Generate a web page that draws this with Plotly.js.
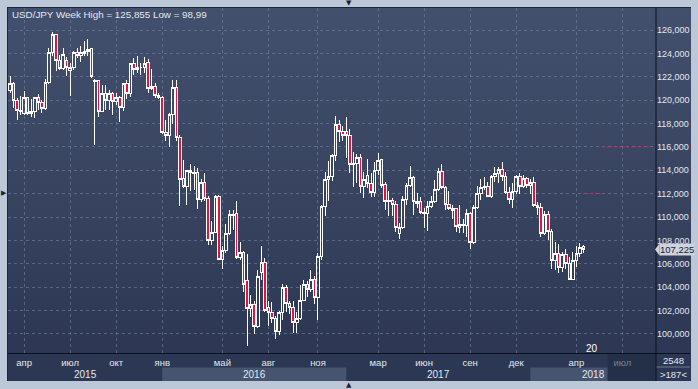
<!DOCTYPE html>
<html><head><meta charset="utf-8">
<script src="https://cdn.plot.ly/plotly-3.0.1.min.js"></script>
<style>
html,body{margin:0;padding:0;background:#bcc8d8;width:698px;height:389px;overflow:hidden;}
#bg{position:absolute;left:7px;top:7px;width:684px;height:374px;background:linear-gradient(to bottom,#43506d 0%,#36425e 55%,#2b3551 100%);border-left:1px solid #1d2536;border-top:1px solid #1d2536;box-sizing:border-box;}
#chart{position:absolute;left:0;top:0;width:698px;height:389px;}
#chart .boxes path{shape-rendering:crispEdges;}
</style></head><body><div id="bg"></div><div id="chart"></div>
<script>
// ---- data (weekly USD/JPY) ----
var weeks = [
'2015-03-09','2015-03-16','2015-03-23','2015-03-30','2015-04-06','2015-04-13','2015-04-20','2015-04-27','2015-05-04','2015-05-11','2015-05-18','2015-05-25','2015-06-01','2015-06-08','2015-06-15','2015-06-22','2015-06-29','2015-07-06','2015-07-13','2015-07-20','2015-07-27','2015-08-03','2015-08-10','2015-08-17','2015-08-24','2015-08-31','2015-09-07','2015-09-14','2015-09-21','2015-09-28','2015-10-05','2015-10-12','2015-10-19','2015-10-26','2015-11-02','2015-11-09','2015-11-16','2015-11-23','2015-11-30','2015-12-07','2015-12-14','2015-12-21','2015-12-28',
'2016-01-04','2016-01-11','2016-01-18','2016-01-25','2016-02-01','2016-02-08','2016-02-15','2016-02-22','2016-02-29','2016-03-07','2016-03-14','2016-03-21','2016-03-28','2016-04-04','2016-04-11','2016-04-18','2016-04-25','2016-05-02','2016-05-09','2016-05-16','2016-05-23','2016-05-30','2016-06-06','2016-06-13','2016-06-20','2016-06-27','2016-07-04','2016-07-11','2016-07-18','2016-07-25','2016-08-01','2016-08-08','2016-08-15','2016-08-22','2016-08-29','2016-09-05','2016-09-12','2016-09-19','2016-09-26','2016-10-03','2016-10-10','2016-10-17','2016-10-24','2016-10-31','2016-11-07','2016-11-14','2016-11-21','2016-11-28','2016-12-05','2016-12-12','2016-12-19','2016-12-26',
'2017-01-02','2017-01-09','2017-01-16','2017-01-23','2017-01-30','2017-02-06','2017-02-13','2017-02-20','2017-02-27','2017-03-06','2017-03-13','2017-03-20','2017-03-27','2017-04-03','2017-04-10','2017-04-17','2017-04-24','2017-05-01','2017-05-08','2017-05-15','2017-05-22','2017-05-29','2017-06-05','2017-06-12','2017-06-19','2017-06-26','2017-07-03','2017-07-10','2017-07-17','2017-07-24','2017-07-31','2017-08-07','2017-08-14','2017-08-21','2017-08-28','2017-09-04','2017-09-11','2017-09-18','2017-09-25','2017-10-02','2017-10-09','2017-10-16','2017-10-23','2017-10-30','2017-11-06','2017-11-13','2017-11-20','2017-11-27','2017-12-04','2017-12-11','2017-12-18','2017-12-25',
'2018-01-01','2018-01-08','2018-01-15','2018-01-22','2018-01-29','2018-02-05','2018-02-12','2018-02-19','2018-02-26','2018-03-05','2018-03-12','2018-03-19','2018-03-26','2018-04-02','2018-04-09','2018-04-16'];

var open = [
120.8,121.4,120.0,119.1,118.9,120.2,118.9,119.0,120.2,119.8,119.3,121.5,124.1,125.6,123.4,122.7,123.4,122.5,122.8,124.1,123.8,124.0,124.2,124.4,121.6,121.7,119.0,120.6,120.0,120.6,119.9,120.2,119.4,121.4,120.6,123.1,122.6,122.8,122.8,123.2,121.0,121.2,120.4,
120.2,117.2,117.0,118.8,121.1,116.8,113.3,112.6,114.0,113.7,113.8,111.5,113.0,111.6,108.0,108.7,111.8,106.4,107.1,108.6,110.1,110.3,106.5,107.0,104.6,102.2,102.5,100.6,105.3,106.1,102.3,101.8,101.3,100.2,101.8,104.0,102.6,102.3,101.0,101.3,102.9,104.2,103.8,104.7,103.1,106.6,110.9,113.2,113.5,115.3,117.9,117.3,
117.3,117.0,114.5,114.6,115.1,112.6,113.6,112.9,112.1,114.0,114.9,112.8,111.3,111.4,111.1,108.6,109.1,111.5,112.7,113.4,111.2,111.3,110.4,110.3,110.9,111.3,112.4,113.9,112.5,111.1,110.6,110.7,109.1,109.4,109.3,110.3,107.8,110.8,112.0,112.5,112.6,111.8,113.5,113.7,114.1,113.5,112.1,111.5,112.2,113.5,112.6,113.3,
112.7,113.0,111.0,110.8,108.6,110.2,108.8,106.3,106.9,105.7,106.8,106.0,104.7,106.3,106.9,107.5];

var high = [
122.03,121.6,120.2,120.4,120.8,120.3,120.1,120.3,120.5,120.0,121.8,124.45,125.855,125.7,123.9,124.45,123.7,123.2,124.2,124.5,124.6,125.05,125.28,124.5,121.8,121.75,121.3,121.3,120.9,120.7,120.6,120.4,121.5,121.7,123.2,123.6,123.76,123.2,123.7,123.5,122.7,121.5,120.6,
120.4,118.3,118.9,121.7,121.7,117.0,114.9,114.0,114.55,114.4,114.2,113.3,113.8,111.8,109.7,111.9,111.9,107.5,109.4,110.6,110.6,111.4,107.9,107.1,106.8,103.3,102.8,105.5,107.5,106.5,102.8,102.7,101.5,102.0,104.3,104.2,102.8,102.8,101.9,104.2,104.6,104.5,105.5,105.0,106.9,111.0,113.9,114.8,115.4,118.66,118.3,117.8,
118.6,117.5,115.6,115.4,115.4,113.9,114.95,113.8,114.7,115.5,115.0,113.0,112.2,111.6,111.4,109.5,111.8,112.9,114.37,113.5,112.1,111.7,110.8,111.4,111.8,113.2,114.2,114.5,112.7,112.2,111.05,110.8,111.0,109.8,110.7,110.4,111.0,112.7,113.3,113.4,113.0,113.6,114.3,114.3,114.7,113.9,112.6,112.9,113.6,113.75,113.6,113.4,
113.3,113.4,111.3,111.2,110.5,110.5,109.0,107.9,107.7,107.05,107.3,106.6,107.0,107.5,107.8,107.6];

var low = [
120.6,119.3,118.3,118.7,118.7,118.7,118.6,118.5,119.2,118.9,119.2,121.4,123.8,122.46,122.6,122.6,122.1,120.4,122.6,123.6,123.3,123.8,123.8,121.9,116.15,118.6,119.0,119.2,119.2,118.7,119.6,118.1,119.1,120.1,120.3,122.2,122.3,122.2,122.3,120.6,120.9,120.2,120.1,
117.1,116.5,116.0,118.0,116.5,110.98,112.5,111.0,112.2,112.3,110.7,111.3,111.4,107.6,107.6,108.6,106.3,105.55,106.9,108.5,108.9,106.4,106.3,103.55,98.99,101.45,99.99,100.5,104.6,101.9,100.7,100.9,99.55,99.9,101.2,101.9,101.7,100.1,100.1,101.2,102.8,103.2,103.6,102.55,101.2,106.3,110.1,111.4,113.1,114.8,116.4,116.5,
115.06,113.75,112.6,112.9,112.1,111.6,112.5,111.7,111.7,113.6,112.5,110.6,110.1,110.1,108.7,108.1,109.0,111.0,112.6,110.2,110.8,110.3,109.1,108.8,110.8,111.2,112.2,112.4,110.6,110.6,109.85,108.7,108.6,108.6,108.3,107.3,107.7,110.7,111.5,112.3,111.7,111.6,113.0,112.9,113.1,112.0,111.1,110.8,112.0,112.0,112.5,112.5,
112.0,110.9,110.2,108.3,108.5,108.0,105.55,105.5,105.25,105.3,105.6,104.6,104.6,105.7,106.6,106.9];

var close = [
121.4,120.0,119.1,119.0,120.2,118.9,119.0,120.2,119.8,119.3,121.5,124.1,125.6,123.4,122.7,123.9,122.8,122.8,124.1,123.8,124.1,124.2,124.3,122.0,121.7,119.0,120.6,120.0,120.6,119.9,120.2,119.4,121.4,120.6,123.1,122.6,122.8,122.8,123.1,121.0,121.2,120.4,120.2,
117.2,117.0,118.8,121.1,116.8,113.2,112.6,114.0,113.8,113.8,111.5,113.0,111.6,108.0,108.7,111.8,106.4,107.1,108.6,110.2,110.2,106.5,107.0,104.2,102.2,102.5,100.6,104.9,106.1,102.0,101.8,101.3,100.2,101.8,104.0,102.6,102.3,101.0,101.3,102.9,104.2,103.8,104.7,103.1,106.6,110.9,113.2,113.5,115.3,117.9,117.3,117.0,
117.0,114.5,114.6,115.1,112.6,113.2,112.9,112.1,114.0,114.8,112.7,111.3,111.4,111.1,109.1,109.1,111.5,112.7,113.4,111.3,111.3,110.4,110.3,110.9,111.3,112.4,113.9,112.5,111.1,110.7,110.7,109.2,109.4,109.3,110.3,107.8,110.8,112.0,112.5,112.6,111.8,113.5,113.7,114.1,113.5,112.1,111.5,112.2,113.5,112.6,113.3,112.7,
113.0,111.0,110.8,108.6,110.2,108.8,106.3,106.9,105.7,106.8,106.0,104.7,106.3,106.9,107.4,107.225];

var monthTicks = ['2015-04-06','2015-07-06','2015-10-05','2016-01-04','2016-05-02','2016-08-01','2016-11-07','2017-03-06','2017-06-05','2017-09-04','2017-12-04','2018-04-02','2018-07-02'];
var monthNames = ['апр','июл','окт','янв','май','авг','ноя','мар','июн','сен','дек','апр','июл'];
var yearNames = ['2015','2016','2017','2018'];
var yearStarts = ['2015-03-05 01:00','2016-01-04','2017-01-02','2018-01-01'];
var priceTicks = [100,102,104,106,108,110,112,114,116,118,120,122,124,126];
var lastPrice = 107.225;
var titleText = 'USD/JPY Week High = 125,855 Low = 98,99';

// ---- layout helpers ----
var W = 698, H = 389, PL = 8, PR = 656, PT = 8, PB = 353;
var xRange = ['2015-03-05 01:00', '2018-09-06 11:00'];
var futureStart = '2018-06-03';
function ms(d){ return new Date(d.replace(' ', 'T') + (d.length > 10 ? ':00Z' : 'T00:00:00Z')).getTime(); }
var x0ms = ms(xRange[0]), x1ms = ms(xRange[1]);
function dx(d){ return (ms(d) - x0ms) / (x1ms - x0ms); }
function px(x){ return (x - PL) / (PR - PL); }
function py(y){ return (PB - y) / (PB - PT); }

var font = 'Liberation Sans, Arial, sans-serif';
var txt = '#e2e7ef';
var grid = 'rgba(112,128,160,0.62)';

var trace = {
  type: 'candlestick', x: weeks, open: open, high: high, low: low, close: close,
  increasing: { line: { color: '#ffffff', width: 1 }, fillcolor: 'rgba(0,0,0,0)' },
  decreasing: { line: { color: '#ffffff', width: 1 }, fillcolor: '#e8103c' },
  whiskerwidth: 0, hoverinfo: 'skip'
};

var shapes = [];
var panelTop = py(354), panelBot = py(381);
shapes.push({type:'rect', layer:'below', xref:'paper', yref:'paper', x0:0, x1:px(690), y0:panelBot, y1:panelTop, fillcolor:'#2c3853', line:{width:0}});
shapes.push({type:'rect', layer:'below', xref:'paper', yref:'paper', x0:dx(yearStarts[1]), x1:dx(yearStarts[2]), y0:panelBot, y1:py(367.5), fillcolor:'#46546f', line:{width:0}});
shapes.push({type:'rect', layer:'below', xref:'paper', yref:'paper', x0:dx(yearStarts[3]), x1:dx(futureStart), y0:panelBot, y1:py(367.5), fillcolor:'#46546f', line:{width:0}});
shapes.push({type:'rect', layer:'below', xref:'paper', yref:'paper', x0:dx(futureStart), x1:1, y0:panelBot, y1:panelTop, fillcolor:'#243048', line:{width:0}});
shapes.push({type:'line', xref:'paper', yref:'paper', x0:0, x1:px(690), y0:py(353.5), y1:py(353.5), line:{color:'#0c111c', width:1}});
shapes.push({type:'line', xref:'paper', yref:'paper', x0:1, x1:1, y0:py(381), y1:1, line:{color:'#0c111c', width:1}});
shapes.push({type:'line', layer:'below', xref:'paper', yref:'paper', x0:1, x1:px(690), y0:py(367), y1:py(367), line:{color:'#6d7a93', width:1}});
shapes.push({type:'line', xref:'x', yref:'y', x0:'2018-04-15', x1:'2018-05-25', y0:112, y1:112, line:{color:'#e0203a', width:1, dash:'2px,2px'}});
shapes.push({type:'line', xref:'x', yref:'y', x0:'2018-05-25', x1:'2018-08-25', y0:116, y1:116, line:{color:'#e0203a', width:1, dash:'2px,2px'}});
var tagHalf = 6 / 11.687;
shapes.push({type:'path', xref:'paper', yref:'y', fillcolor:'#cdd4de', line:{width:0},
  path: 'M ' + px(655) + ',' + lastPrice + ' L ' + px(659.5) + ',' + (lastPrice + tagHalf) + ' L ' + px(659.5) + ',' + (lastPrice - tagHalf) + ' Z'});

var annotations = [];
annotations.push({xref:'paper', yref:'paper', x:px(10), y:py(15), xanchor:'left', yanchor:'middle', showarrow:false,
  text: titleText, font:{family:font, size:9.8, color:txt}});
for (var i = 0; i < yearNames.length; i++) {
  var a = dx(yearStarts[i]);
  var b = (i + 1 < yearStarts.length) ? dx(yearStarts[i + 1]) : 1;
  annotations.push({xref:'paper', yref:'paper', x:(a + b) / 2, y:py(374.5), xanchor:'center', yanchor:'middle', showarrow:false,
    text: yearNames[i], font:{family:font, size:10, color:txt}});
}
annotations.push({xref:'paper', yref:'paper', x:px(592), y:py(348), xanchor:'center', yanchor:'middle', showarrow:false,
  text:'20', font:{family:font, size:10, color:'#ffffff'}});
annotations.push({xref:'paper', yref:'paper', x:px(673), y:py(360), xanchor:'center', yanchor:'middle', showarrow:false,
  text:'2548', font:{family:font, size:9.5, color:txt}});
annotations.push({xref:'paper', yref:'paper', x:px(673), y:py(374), xanchor:'center', yanchor:'middle', showarrow:false,
  text:'&gt;187&lt;', font:{family:font, size:9.5, color:txt}});
annotations.push({xref:'paper', yref:'y', x:px(659), y:lastPrice, xanchor:'left', yanchor:'middle', showarrow:false,
  text: lastPrice.toFixed(3).replace('.', ','), bgcolor:'#cdd4de', borderpad:0, font:{family:font, size:9.5, color:'#1a2232'}});
annotations.push({xref:'paper', yref:'paper', x:px(349), y:py(3), xanchor:'center', yanchor:'middle', showarrow:false, text:'▼', font:{family:'DejaVu Sans', size:7, color:'#1b2231'}});
annotations.push({xref:'paper', yref:'paper', x:px(349), y:py(385), xanchor:'center', yanchor:'middle', showarrow:false, text:'▲', font:{family:'DejaVu Sans', size:7, color:'#1b2231'}});
annotations.push({xref:'paper', yref:'paper', x:px(3.5), y:py(193), xanchor:'center', yanchor:'middle', showarrow:false, text:'▶', font:{family:'DejaVu Sans', size:7, color:'#1b2231'}});

var tickText = monthNames.map(function(m, k){ return k === monthNames.length - 1 ? '<span style="color:#76829a">' + m + '</span>' : m; });

var layout = {
  width: W, height: H,
  margin: {l: PL, r: W - PR, t: PT, b: H - PB, pad: 0},
  paper_bgcolor: 'rgba(0,0,0,0)', plot_bgcolor: 'rgba(0,0,0,0)',
  showlegend: false, hovermode: false, separators: ', ',
  boxgap: 0.15, boxgroupgap: 0.15,
  xaxis: {type:'date', range: xRange, tickmode:'array', tickvals: monthTicks, ticktext: tickText,
    showgrid:true, gridcolor:grid, griddash:'3px,3px', gridwidth:1, zeroline:false, ticks:'', ticklabelstandoff:2,
    showline:false, tickfont:{family:font, size:9.5, color:txt}, rangeslider:{visible:false}, fixedrange:true},
  yaxis: {side:'right', range:[98.37, 127.89], tickmode:'array', tickvals: priceTicks, tickformat:'.3f',
    showgrid:true, gridcolor:grid, griddash:'3px,3px', gridwidth:1, zeroline:false, ticks:'', showline:false,
    tickfont:{family:font, size:9, color:txt}, fixedrange:true},
  shapes: shapes, annotations: annotations
};

Plotly.newPlot('chart', [trace], layout, {staticPlot:true, displayModeBar:false});
</script></body></html>
